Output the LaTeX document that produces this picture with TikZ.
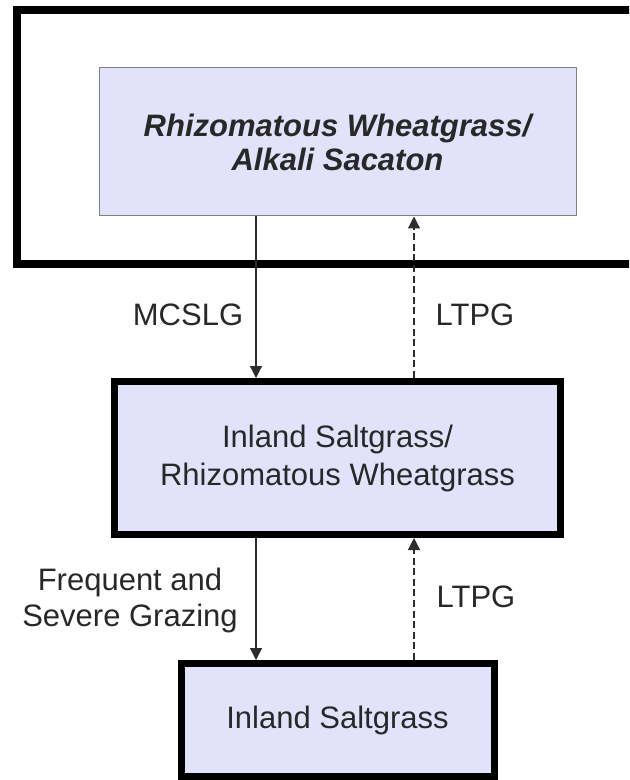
\documentclass[tikz,border=0pt]{standalone}
\usepackage{fontspec}
\setmainfont{Liberation Sans}
\usepackage{tikz}
\usetikzlibrary{shapes,arrows.meta,positioning,calc}
\definecolor{statefill}{RGB}{226,226,250}
\definecolor{textgray}{RGB}{40,40,40}
\definecolor{linegray}{RGB}{45,45,45}
\tikzstyle{state} = [draw, rectangle, fill=statefill, text=textgray, align=center, line width=3.5pt, font=\fontsize{15.5}{19}\selectfont]
\tikzstyle{line} = [draw, linegray, line width=0.6pt, -{Triangle[length=6pt,width=6pt]}]
\tikzstyle{back} = [line, dash pattern=on 3.5pt off 1.8pt]
\tikzstyle{lbl} = [text=textgray, align=center, font=\fontsize{15.5}{18}\selectfont]

\begin{document}
\begin{tikzpicture}[x=0.5pt, y=-0.5pt]
    \clip (0,0) rectangle (629,780);
    % reference state frame
    \draw [line width=4pt] (650,10) -- (17,10) -- (17,264) -- (650,264);

    \node [state, draw=gray, line width=0.5pt, minimum width=238.5pt, minimum height=74pt, font=\fontsize{15.5}{16}\selectfont\bfseries\itshape] (rwas) at (337.5,142) {Rhizomatous Wheatgrass/\\[1pt]Alkali Sacaton};
    \node [state, minimum width=223pt, minimum height=76.5pt] (isrw) at (337.5,458) {Inland Saltgrass/\\Rhizomatous Wheatgrass};
    \node [state, minimum width=156.5pt, minimum height=56.5pt] (insg) at (337.5,720) {Inland Saltgrass};

    \node [lbl] (mcslg) at (188,315) {MCSLG};
    \node [lbl] (ltpga) at (475,315) {LTPG};
    \node [lbl] (fsg) at (130,600) {Frequent and\\Severe Grazing};
    \node [lbl] (ltpgb) at (476,597) {LTPG};

    \path [line] ([xshift=-40.75pt]rwas.south) -- ([xshift=-40.75pt]isrw.north);
    \path [back] ([xshift=38.25pt]isrw.north) -- ([xshift=38.25pt]rwas.south);
    \path [line] ([xshift=-40.75pt]isrw.south) -- ([xshift=-40.75pt]insg.north);
    \path [back] ([xshift=38.25pt]insg.north) -- ([xshift=38.25pt]isrw.south);
\end{tikzpicture}
\end{document}
